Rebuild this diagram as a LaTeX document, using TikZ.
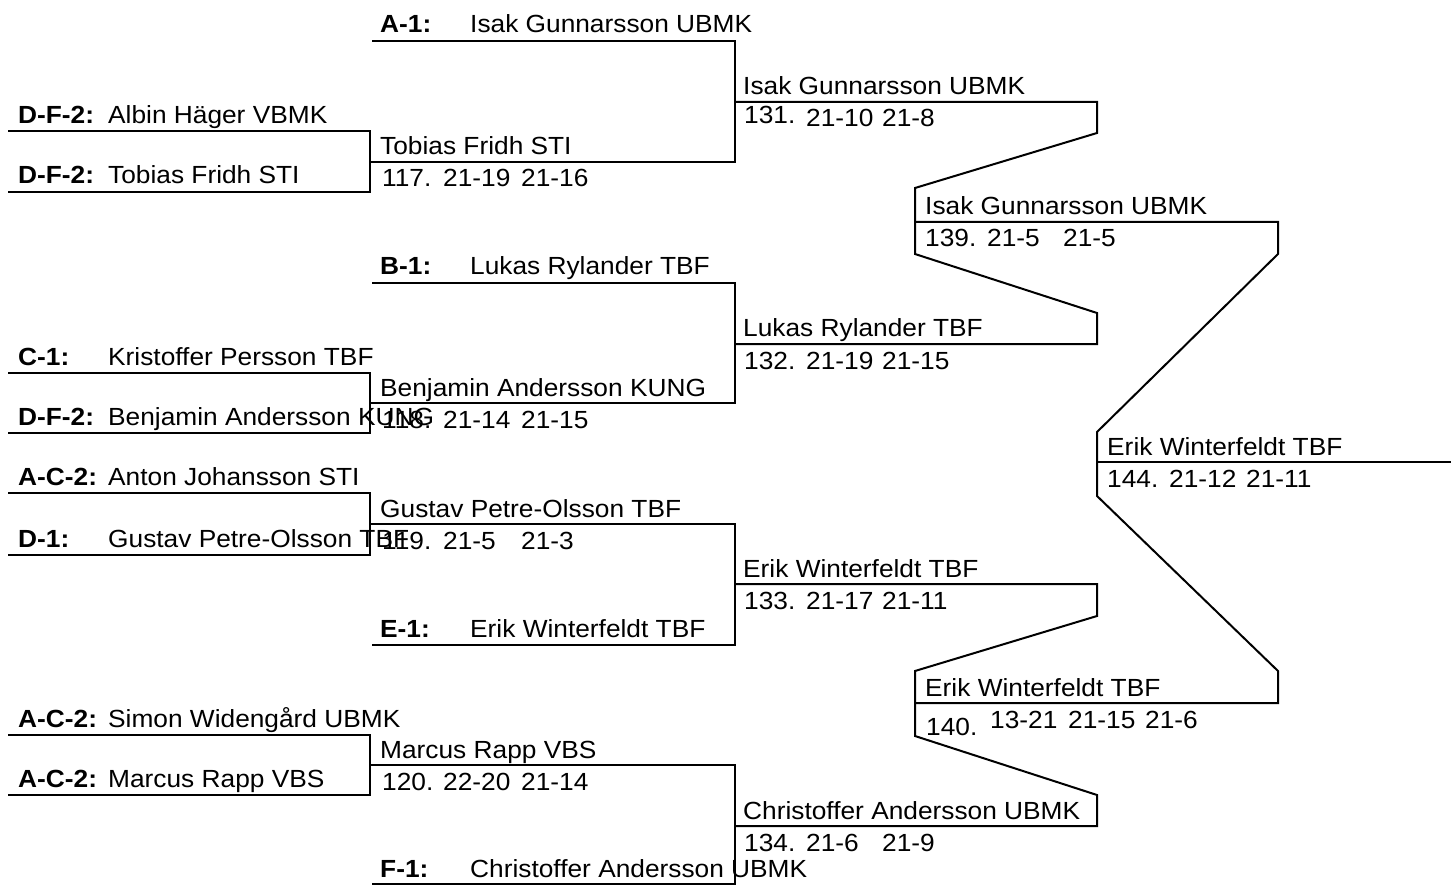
\documentclass[tikz,border=0pt]{standalone}
\usepackage{fontspec}
\setmainfont{Liberation Sans}[FakeStretch=1.06]
\begin{document}
\begin{tikzpicture}[x=1pt,y=-1pt,
  lbl/.style={anchor=base west,inner sep=0pt,font=\fontsize{24.8}{28}\selectfont},
  seed/.style={lbl,font=\fontsize{24.8}{28}\selectfont\bfseries},
  br/.style={line width=2pt,line join=miter}]
\useasboundingbox (0,0) rectangle (1451,885);
% ---------- bracket lines ----------
% round 1 pairs
\draw[br] (8,131.5) -- (370,131.5) -- (370,192) -- (8,192);
\draw[br] (8,373) -- (370,373) -- (370,433) -- (8,433);
\draw[br] (8,493) -- (370,493) -- (370,555) -- (8,555);
\draw[br] (8,735) -- (370,735) -- (370,795) -- (8,795);
% round 2
\draw[br] (372,41) -- (735,41) -- (735,162) -- (370,162);
\draw[br] (372,283) -- (735,283) -- (735,403) -- (370,403);
\draw[br] (370,524) -- (735,524) -- (735,645) -- (372,645);
\draw[br] (370,765) -- (735,765) -- (735,884) -- (372,884);
% round 3 / 4
\draw[br] (735,102) -- (1097,102) -- (1097,133) -- (915,188) -- (915,254) -- (1097,313) -- (1097,344) -- (735,344);
\draw[br] (735,584) -- (1097,584) -- (1097,616) -- (915,671) -- (915,736) -- (1097,795) -- (1097,826) -- (735,826);
% semifinal / final
\draw[br] (915,222) -- (1278,222) -- (1278,254) -- (1097,432) -- (1097,496) -- (1278,671) -- (1278,703) -- (915,703);
\draw[br] (1097,462) -- (1451,462);
% ---------- round 1 labels ----------
\node[seed] (l1) at (18,123.5) {D-F-2:}; \node[lbl] (e1) at (108,123.5) {Albin Häger VBMK};
\node[seed] (l2) at (18,184) {D-F-2:};   \node[lbl] (e2) at (108,184) {Tobias Fridh STI};
\node[seed] (l3) at (18,365) {C-1:};     \node[lbl] (e3) at (108,365) {Kristoffer Persson TBF};
\node[seed] (l4) at (18,425) {D-F-2:};   \node[lbl] (e4) at (108,425) {Benjamin Andersson KUNG};
\node[seed] (l5) at (18,485) {A-C-2:};   \node[lbl] (e5) at (108,485) {Anton Johansson STI};
\node[seed] (l6) at (18,547) {D-1:};     \node[lbl] (e6) at (108,547) {Gustav Petre-Olsson TBF};
\node[seed] (l7) at (18,727) {A-C-2:};   \node[lbl] (e7) at (108,727) {Simon Widengård UBMK};
\node[seed] (l8) at (18,787) {A-C-2:};   \node[lbl] (e8) at (108,787) {Marcus Rapp VBS};
% ---------- round 2 seeds ----------
\node[seed] (l9) at (380,33) {A-1:};   \node[lbl] (e9) at (470,33) {Isak Gunnarsson UBMK};
\node[seed] (l10) at (380,275) {B-1:}; \node[lbl] (e10) at (470,275) {Lukas Rylander TBF};
\node[seed] (l11) at (380,637) {E-1:}; \node[lbl] (e11) at (470,637) {Erik Winterfeldt TBF};
\node[seed] (l12) at (380,877) {F-1:}; \node[lbl] (e12) at (470,877) {Christoffer Andersson UBMK};
% ---------- match winners ----------
% 117
\node[lbl] (w117) at (380,155) {Tobias Fridh STI};
\node[lbl] (n117) at (382,187) {117.};
\node[lbl] (a117) at (443,187) {21-19}; \node[lbl] (b117) at (521,187) {21-16};
% 118
\node[lbl] (w118) at (380,396) {Benjamin Andersson KUNG};
\node[lbl] (n118) at (382,428) {118.};
\node[lbl] (a118) at (443,428) {21-14}; \node[lbl] (b118) at (521,428) {21-15};
% 119
\node[lbl] (w119) at (380,517) {Gustav Petre-Olsson TBF};
\node[lbl] (n119) at (382,549) {119.};
\node[lbl] (a119) at (443,549) {21-5}; \node[lbl] (b119) at (521,549) {21-3};
% 120
\node[lbl] (w120) at (380,758) {Marcus Rapp VBS};
\node[lbl] (n120) at (382,790) {120.};
\node[lbl] (a120) at (443,790) {22-20}; \node[lbl] (b120) at (521,790) {21-14};
% 131
\node[lbl] (w131) at (743,95) {Isak Gunnarsson UBMK};
\node[lbl] (n131) at (744,124) {131.};
\node[lbl] (a131) at (806,127) {21-10}; \node[lbl] (b131) at (882,127) {21-8};
% 132
\node[lbl] (w132) at (743,337) {Lukas Rylander TBF};
\node[lbl] (n132) at (744,369) {132.};
\node[lbl] (a132) at (806,369) {21-19}; \node[lbl] (b132) at (882,369) {21-15};
% 133
\node[lbl] (w133) at (743,577) {Erik Winterfeldt TBF};
\node[lbl] (n133) at (744,609) {133.};
\node[lbl] (a133) at (806,609) {21-17}; \node[lbl] (b133) at (882,609) {21-11};
% 134
\node[lbl] (w134) at (743,819) {Christoffer Andersson UBMK};
\node[lbl] (n134) at (744,851) {134.};
\node[lbl] (a134) at (806,851) {21-6}; \node[lbl] (b134) at (882,851) {21-9};
% 139
\node[lbl] (w139) at (925,215) {Isak Gunnarsson UBMK};
\node[lbl] (n139) at (925,247) {139.};
\node[lbl] (a139) at (987,247) {21-5}; \node[lbl] (b139) at (1063,247) {21-5};
% 140
\node[lbl] (w140) at (925,696) {Erik Winterfeldt TBF};
\node[lbl] (n140) at (926,735) {140.};
\node[lbl] (a140) at (990,728) {13-21}; \node[lbl] (b140) at (1068,728) {21-15};
\node[lbl] (c140) at (1145,728) {21-6};
% 144
\node[lbl] (w144) at (1107,455) {Erik Winterfeldt TBF};
\node[lbl] (n144) at (1107,487) {144.};
\node[lbl] (a144) at (1169,487) {21-12}; \node[lbl] (b144) at (1246,487) {21-11};
\end{tikzpicture}
\end{document}
